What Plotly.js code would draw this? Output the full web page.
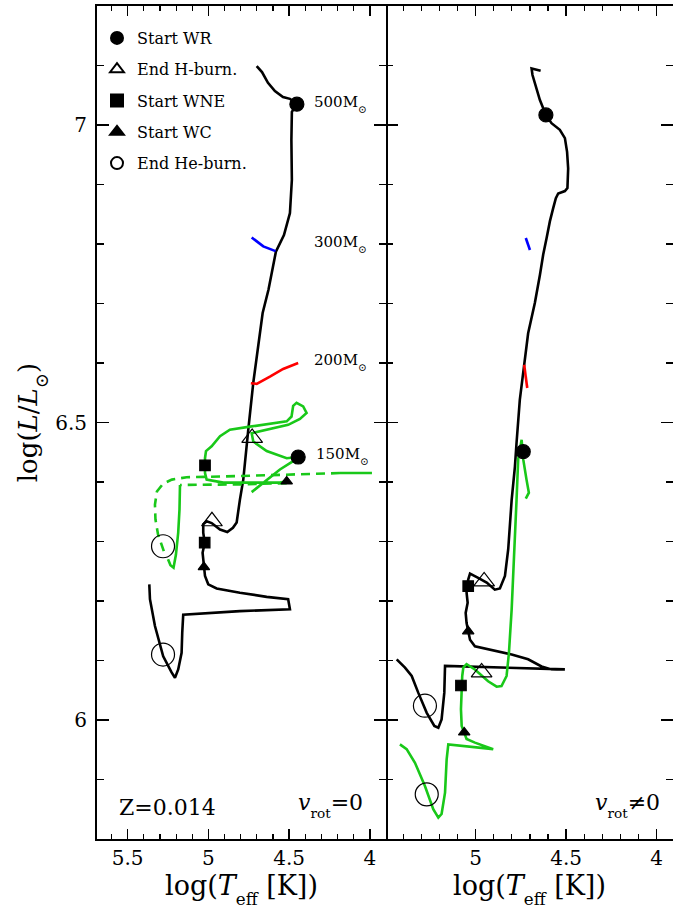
<!DOCTYPE html>
<html>
<head>
<meta charset="utf-8">
<script src="https://cdn.plot.ly/plotly-3.0.1.min.js"></script>
<style>html,body{margin:0;padding:0;background:#fff;}#plot{width:673px;height:916px;}</style>
</head>
<body>
<div id="plot"></div>
<script>
// ---------- Left panel (v_rot = 0) ----------
// 500 Msun track
const m500L_logT = [4.701,4.668,4.631,4.588,4.538,4.495,4.452,4.483,4.486,4.483,4.495,4.514,4.532,4.582,4.628,4.664,4.706,4.722,4.753,4.784,4.805,4.825,4.848,4.883,4.928,4.980,5.011,5.032,5.032,5.023,5.036,5.032,5.028,5.021,5.001,4.949,4.805,4.639,4.506,4.495,4.805,5.156,5.162,5.166,5.187,5.207,5.228,5.280,5.331,5.362,5.366];
const m500L_logL = [7.099,7.089,7.071,7.057,7.047,7.044,7.035,7.022,6.975,6.908,6.852,6.832,6.815,6.787,6.723,6.684,6.600,6.567,6.488,6.404,6.370,6.332,6.323,6.316,6.320,6.331,6.334,6.329,6.315,6.298,6.281,6.267,6.256,6.242,6.228,6.221,6.214,6.207,6.203,6.186,6.183,6.177,6.147,6.113,6.085,6.071,6.080,6.107,6.158,6.203,6.228];
// 300 Msun
const m300L_logT = [4.732,4.701,4.660,4.584];
const m300L_logL = [6.811,6.804,6.796,6.788];
// 200 Msun
const m200L_logT = [4.737,4.701,4.619,4.537,4.444];
const m200L_logL = [6.566,6.565,6.577,6.590,6.600];
// 150 Msun (solid main)
const m150L_logT = [4.732,4.639,4.557,4.475,4.444,4.515,4.639,4.722,4.732,4.506,4.433,4.392,4.413,4.454,4.475,4.485,4.515,4.743,4.867,4.928,4.980,5.015,5.021,5.021,5.021,5.011,4.908,4.557,4.515];
const m150L_logL = [6.383,6.404,6.421,6.435,6.442,6.440,6.452,6.468,6.482,6.496,6.506,6.516,6.527,6.533,6.528,6.510,6.502,6.493,6.488,6.477,6.460,6.452,6.440,6.428,6.415,6.404,6.399,6.399,6.401];
// 150 Msun solid end piece (far right)
const m150Lend_logT = [4.185,3.987];
const m150Lend_logL = [6.415,6.415];
// 150 Msun dashed parts
const m150Ld1_logT = [4.185,4.495,4.805,5.135,5.226,5.281,5.319,5.331,5.328,5.312,5.289,5.269];
const m150Ld1_logL = [6.415,6.412,6.410,6.408,6.404,6.397,6.384,6.362,6.337,6.312,6.295,6.278];
const m150Ld2_logT = [4.515,4.805,5.176];
const m150Ld2_logL = [6.398,6.396,6.395];
// 150 Msun solid vertical part
const m150Lv_logT = [5.176,5.179,5.187,5.201,5.216,5.235,5.250];
const m150Lv_logL = [6.395,6.354,6.315,6.278,6.256,6.260,6.270];

// ---------- Right panel (v_rot != 0) ----------
const m500R_logT = [4.641,4.691,4.686,4.664,4.645,4.612,4.581,4.535,4.507,4.495,4.489,4.493,4.507,4.544,4.557,4.572,4.590,4.608,4.627,4.645,4.673,4.710,4.756,4.774,4.783,4.801,4.820,4.838,4.866,4.894,4.939,4.986,5.031,5.041,5.050,5.044,5.055,5.050,5.041,5.031,5.004,4.912,4.801,4.710,4.636,4.581,4.507,5.169,5.173,5.188,5.206,5.228,5.270,5.317,5.353,5.390,5.436];
const m500R_logL = [7.091,7.095,7.084,7.062,7.042,7.017,7.003,6.992,6.978,6.955,6.927,6.894,6.889,6.885,6.877,6.860,6.838,6.810,6.782,6.748,6.701,6.650,6.538,6.466,6.426,6.370,6.287,6.242,6.221,6.219,6.231,6.239,6.246,6.236,6.214,6.197,6.180,6.163,6.149,6.135,6.124,6.118,6.110,6.102,6.090,6.085,6.085,6.091,6.046,6.001,5.987,5.990,6.012,6.046,6.074,6.088,6.102];
const m300R_logT = [4.723,4.700];
const m300R_logL = [6.810,6.790];
const m200R_logT = [4.732,4.723,4.715];
const m200R_logL = [6.597,6.577,6.558];
const m150R_logT = [4.723,4.706,4.719,4.737,4.746,4.765,4.774,4.787,4.796,4.801,4.816,4.829,4.857,4.884,4.931,5.004,5.050,5.068,5.074,5.077,5.081,5.077,5.063,5.050,5.004,4.903,5.151,5.160,5.169,5.188,5.206,5.234,5.280,5.335,5.381,5.418];
const m150R_logL = [6.372,6.382,6.404,6.438,6.471,6.438,6.370,6.287,6.208,6.186,6.113,6.074,6.057,6.056,6.065,6.085,6.094,6.088,6.074,6.046,6.018,5.990,5.979,5.968,5.962,5.951,5.959,5.934,5.878,5.842,5.836,5.850,5.889,5.928,5.951,5.959];

// ---------- Phase markers ----------
const phaseNames = ["Start WR","End H-burn.","Start WNE","Start WC","End He-burn."];
const phaseL_logT = [[4.452,4.444],[4.978,4.729],[5.023,5.021],[5.028,4.515],[5.281,5.281]];
const phaseL_logL = [[7.035,6.442],[6.334,6.474],[6.298,6.428],[6.257,6.401],[6.110,6.292]];
const phaseR_logT = [[4.612,4.737],[4.953,4.967],[5.041,5.081],[5.041,5.063],[5.280,5.270]];
const phaseR_logL = [[7.017,6.451],[6.233,6.080],[6.225,6.058],[6.149,5.979],[6.024,5.875]];

// ---------- Labels ----------
const SUB = (s,p)=>'<span style="font-size:'+(p||70)+'%;baseline-shift:sub">'+s+'</span>';
const massLabels = ["500M","300M","200M","150M"].map(s=>s+SUB('⊙'));
const massLabel_logT = [4.359,4.359,4.359,4.346];
const massLabel_logL = [7.035,6.800,6.601,6.443];
const xTickValsL = [5.5,5,4.5,4];
const xTickValsR = [5,4.5,4];
const yTickVals = [6,6.5,7];

// ---------- styles ----------
const BLACK='#000000', GREEN='#19c819', RED='#ff0000', BLUE='#0000ff';
const LW = 2.6;
const symbols = ['circle','triangle-up-open','square','triangle-up','circle-open'];
const msizes = [14,18,10.5,10,23];

function line(x,y,color,xa,ya,dash){
  return {x:x,y:y,xaxis:xa,yaxis:ya,type:'scatter',mode:'lines',showlegend:false,hoverinfo:'skip',
    line:{color:color,width:LW,dash:dash||'solid'}};
}
const traces = [
  line(m500L_logT,m500L_logL,BLACK,'x','y'),
  line(m300L_logT,m300L_logL,BLUE,'x','y'),
  line(m200L_logT,m200L_logL,RED,'x','y'),
  line(m150Ld1_logT,m150Ld1_logL,GREEN,'x','y','9px,6px'),
  line(m150Ld2_logT,m150Ld2_logL,GREEN,'x','y','9px,6px'),
  line(m150L_logT,m150L_logL,GREEN,'x','y'),
  line(m150Lend_logT,m150Lend_logL,GREEN,'x','y'),
  line(m150Lv_logT,m150Lv_logL,GREEN,'x','y'),
  line(m500R_logT,m500R_logL,BLACK,'x2','y2'),
  line(m300R_logT,m300R_logL,BLUE,'x2','y2'),
  line(m200R_logT,m200R_logL,RED,'x2','y2'),
  line(m150R_logT,m150R_logL,GREEN,'x2','y2'),
];
phaseNames.forEach((nm,i)=>{
  const mk = {symbol:symbols[i],size:msizes[i],color:BLACK,line:{color:BLACK,width:1.2}};
  traces.push({x:phaseL_logT[i],y:phaseL_logL[i],xaxis:'x',yaxis:'y',type:'scatter',mode:'markers',
    name:nm,legendgroup:'g'+i,showlegend:true,marker:mk,hoverinfo:'skip'});
  traces.push({x:phaseR_logT[i],y:phaseR_logL[i],xaxis:'x2',yaxis:'y2',type:'scatter',mode:'markers',
    name:nm,legendgroup:'g'+i,showlegend:false,marker:mk,hoverinfo:'skip'});
});

const FONT = 'DejaVu Serif, Liberation Serif, serif';
const xTitle = 'log(<i>T</i>'+SUB('eff',62)+' [K])';
const xBase = {
  showgrid:false, zeroline:false, showline:true, linecolor:BLACK, linewidth:2, mirror:'allticks',
  ticks:'inside', ticklen:10, tickwidth:1.5, tickcolor:BLACK, tickmode:'array',
  minor:{dtick:0.1, tick0:4, ticks:'inside', ticklen:5, tickwidth:1.2, tickcolor:BLACK, showgrid:false},
  tickfont:{family:FONT,size:20,color:BLACK}
};
const yBase = {
  showgrid:false, zeroline:false, linecolor:BLACK, linewidth:2, mirror:'allticks',
  ticks:'inside', ticklen:12, tickwidth:1.5, tickcolor:BLACK,
  tickmode:'array', tickvals:yTickVals, ticktext:['6','6.5','7'],
  minor:{dtick:0.1, tick0:6, ticks:'inside', ticklen:7, tickwidth:1.2, tickcolor:BLACK, showgrid:false},
  tickfont:{family:FONT,size:20,color:BLACK}, range:[5.8,7.2]
};
const split = 289/576;
const layout = {
  width:673, height:916, margin:{l:97,r:0,t:6,b:77},
  paper_bgcolor:'#ffffff', plot_bgcolor:'#ffffff',
  font:{family:FONT,color:BLACK},
  xaxis: Object.assign({}, xBase, {domain:[0,split], range:[5.69,3.90], anchor:'y',
    tickvals:xTickValsL, ticktext:xTickValsL.map(String),
    title:{text:xTitle, font:{family:FONT,size:27,color:BLACK}, standoff:2}}),
  xaxis2: Object.assign({}, xBase, {domain:[split,1], range:[5.495,3.91], anchor:'y2',
    tickvals:xTickValsR, ticktext:xTickValsR.map(String),
    title:{text:xTitle, font:{family:FONT,size:27,color:BLACK}, standoff:2}}),
  yaxis: Object.assign({}, yBase, {showline:true, anchor:'x', ticklabelstandoff:4,
    title:{text:'log(<i>L</i>/<i>L</i>'+SUB('⊙')+')', font:{family:FONT,size:26,color:BLACK}, standoff:10}}),
  yaxis2: Object.assign({}, yBase, {showline:false, anchor:'x2', matches:'y', showticklabels:false}),
  showlegend:true,
  legend:{x:0.0, y:0.982, xanchor:'left', yanchor:'top', bgcolor:'rgba(0,0,0,0)', borderwidth:0,
    font:{family:FONT,size:16,color:BLACK}, itemsizing:'constant', tracegroupgap:7.5, traceorder:'grouped'},
  annotations: massLabels.map((t,i)=>({text:t, x:massLabel_logT[i], y:massLabel_logL[i], xref:'x', yref:'y',
      xanchor:'left', yanchor:'middle', showarrow:false, font:{family:FONT,size:15,color:BLACK}}))
    .concat([
      {text:'Z=0.014', x:0.035, y:0.038, xref:'paper', yref:'paper', xanchor:'left', yanchor:'middle',
       showarrow:false, font:{family:FONT,size:22,color:BLACK}},
      {text:'<i>v</i>'+SUB('rot',62)+'=0', x:0.466, y:0.04, xref:'paper', yref:'paper', xanchor:'right', yanchor:'middle',
       showarrow:false, font:{family:FONT,size:22,color:BLACK}},
      {text:'<i>v</i>'+SUB('rot',62)+'≠0', x:0.981, y:0.04, xref:'paper', yref:'paper', xanchor:'right', yanchor:'middle',
       showarrow:false, font:{family:FONT,size:22,color:BLACK}}
    ])
};
Plotly.newPlot('plot', traces, layout, {displayModeBar:false, staticPlot:true});
</script>
</body>
</html>
